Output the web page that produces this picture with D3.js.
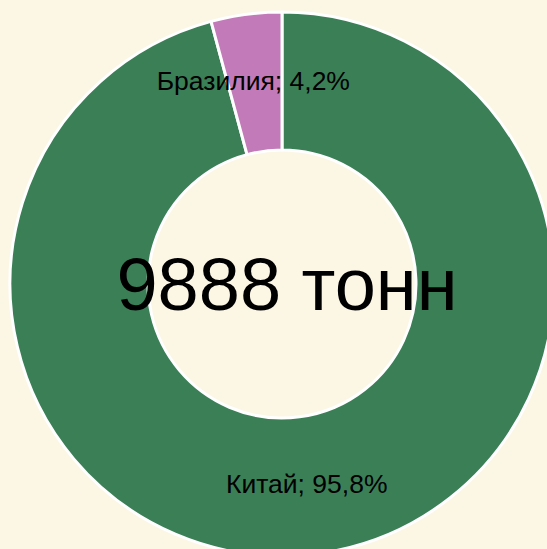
<!DOCTYPE html>
<html><head><meta charset="utf-8">
<script src="https://cdn.jsdelivr.net/npm/d3@7"></script>
<style>html,body{margin:0;padding:0;background:#FCF6E4;overflow:hidden}</style>
</head><body>
<svg id="c" width="547" height="549"></svg>
<script>
const categories = ["Китай", "Бразилия"];
const values = [95.8, 4.2];
const labels = ["Китай; 95,8%", "Бразилия; 4,2%"];
const centerTitle = "9888 тонн";
const colors = ["#3B7F57", "#C27AB8"];

const svg = d3.select("#c");
svg.append("rect").attr("width",547).attr("height",549).attr("fill","#FCF6E4");
const cx = 282, cy = 284, R = 272, r = 134;
const g = svg.append("g").attr("transform",`translate(${cx},${cy})`);
const data = categories.map((c,i)=>({c, v:values[i], label:labels[i], color:colors[i]}));
const pie = d3.pie().value(d=>d.v).sort(null);
const arc = d3.arc().innerRadius(r).outerRadius(R);
const arcs = pie(data);
g.selectAll("path").data(arcs).join("path")
  .attr("d", arc).attr("fill", d=>d.data.color)
  .attr("stroke","#fff").attr("stroke-width",3).attr("stroke-linejoin","round");
g.selectAll("text.lbl").data(arcs).join("text").attr("class","lbl")
  .attr("transform", d=>{const [x,y]=arc.centroid(d); return `translate(${x-2},${y-2})`;})
  .attr("text-anchor","middle").attr("dy","0.35em")
  .attr("font-family","Liberation Sans, Arial, sans-serif").attr("font-size",26.5)
  .attr("fill","#000").text(d=>d.data.label);
g.append("text").attr("x",5).attr("y",26).attr("text-anchor","middle")
  .attr("font-family","Liberation Sans, Arial, sans-serif").attr("font-size",74)
  .attr("fill","#000").text(centerTitle);
</script>
</body></html>
